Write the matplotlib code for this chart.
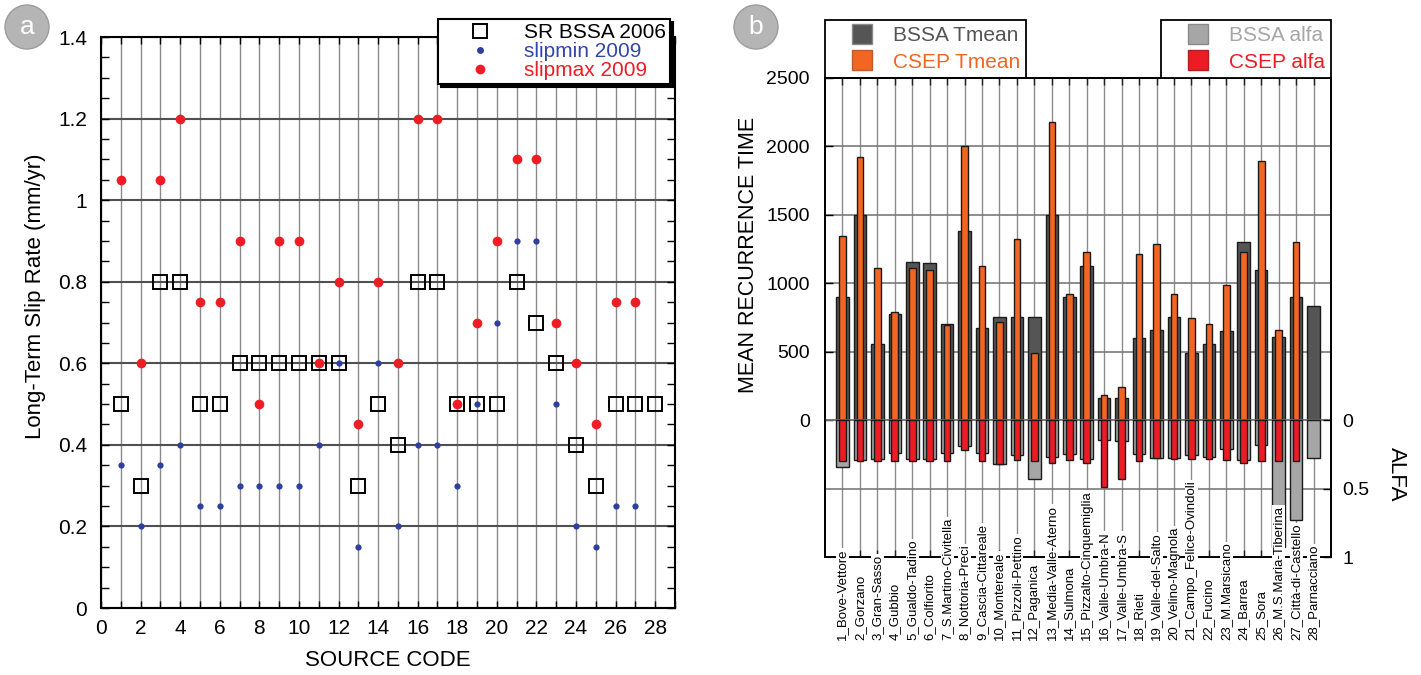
import numpy as np
import matplotlib
matplotlib.use("Agg")
import matplotlib.pyplot as plt
import matplotlib.transforms as mtransforms
from matplotlib.lines import Line2D
from matplotlib.patches import Ellipse
from matplotlib.ticker import MultipleLocator

plt.rcParams['font.family'] = ['Liberation Sans', 'DejaVu Sans']

# ---- panel a: slip rates ----
source_code = list(range(1, 29))
sr_bssa_2006 = [0.5, 0.3, 0.8, 0.8, 0.5, 0.5, 0.6, 0.6, 0.6, 0.6, 0.6, 0.6, 0.3, 0.5,
                0.4, 0.8, 0.8, 0.5, 0.5, 0.5, 0.8, 0.7, 0.6, 0.4, 0.3, 0.5, 0.5, 0.5]
slipmin_2009 = [0.35, 0.2, 0.35, 0.4, 0.25, 0.25, 0.3, 0.3, 0.3, 0.3, 0.4, 0.6, 0.15, 0.6,
                0.2, 0.4, 0.4, 0.3, 0.5, 0.7, 0.9, 0.9, 0.5, 0.2, 0.15, 0.25, 0.25, np.nan]
slipmax_2009 = [1.05, 0.6, 1.05, 1.2, 0.75, 0.75, 0.9, 0.5, 0.9, 0.9, 0.6, 0.8, 0.45, 0.8,
                0.6, 1.2, 1.2, 0.5, 0.7, 0.9, 1.1, 1.1, 0.7, 0.6, 0.45, 0.75, 0.75, np.nan]
ytick_labels_a = ['0', '0.2', '0.4', '0.6', '0.8', '1', '1.2', '1.4']

# ---- panel b: recurrence time and alfa ----
source_names = ['1_Bove-Vettore', '2_Gorzano', '3_Gran-Sasso', '4_Gubbio', '5_Gualdo-Tadino',
                '6_Colfiorito', '7_S.Martino-Civitella', '8_Nottoria-Preci', '9_Cascia-Cittareale',
                '10_Montereale', '11_Pizzoli-Pettino', '12_Paganica', '13_Media-Valle-Aterno',
                '14_Sulmona', '15_Pizzalto-Cinquemiglia', '16_Valle-Umbra-N', '17_Valle-Umbra-S',
                '18_Rieti', '19_Valle-del-Salto', '20_Velino-Magnola', '21_Campo_Felice-Ovindoli',
                '22_Fucino', '23_M.Marsicano', '24_Barrea', '25_Sora', '26_M.S.Maria-Tiberina',
                '27_Città-di-Castello', '28_Parnacciano']
bssa_tmean = [900, 1500, 560, 775, 1155, 1145, 705, 1380, 675, 750, 750, 750, 1500, 900,
              1125, 165, 165, 600, 660, 750, 490, 555, 650, 1305, 1100, 610, 900, 835]
csep_tmean = [1345, 1925, 1110, 790, 1110, 1100, 695, 2005, 1125, 720, 1320, 490, 2180, 920,
              1225, 185, 245, 1215, 1285, 920, 745, 700, 985, 1225, 1895, 660, 1300, np.nan]
bssa_alfa = [0.34, 0.29, 0.285, 0.24, 0.285, 0.285, 0.24, 0.19, 0.24, 0.32, 0.255, 0.43, 0.27, 0.25,
             0.285, 0.145, 0.15, 0.25, 0.275, 0.28, 0.255, 0.27, 0.21, 0.29, 0.18, 0.93, 0.73, 0.28]
csep_alfa = [0.30, 0.30, 0.30, 0.30, 0.30, 0.30, 0.30, 0.22, 0.30, 0.32, 0.29, 0.30, 0.31, 0.29,
             0.31, 0.49, 0.43, 0.295, 0.28, 0.285, 0.285, 0.285, 0.29, 0.315, 0.30, 0.30, 0.30, np.nan]
tmean_ticks = [0, 500, 1000, 1500, 2000, 2500]
alfa_ticks = [0, 0.5, 1]
alfa_tick_labels = ['0', '0.5', '1']

W, H = 1421, 675
fig = plt.figure(figsize=(W / 100, H / 100), dpi=100)


def circle_tag(cx, cy, letter):
    fig.add_artist(Ellipse((cx / W, 1 - cy / H), 44 / W, 44 / H, transform=fig.transFigure,
                           facecolor='#b5b5b5', edgecolor='#9c9c9c', lw=1))
    fig.text(cx / W, 1 - cy / H, letter, color='white', fontsize=19, ha='center', va='center')


# ================= panel a =================
ax1 = fig.add_axes([101 / W, 1 - 608 / H, 574 / W, 571 / H])
ax1.set_xlim(0, 29)
ax1.set_ylim(0, 1.4)
ax1.set_axisbelow(True)

ax1.set_xticks(range(0, 29, 2))
ax1.xaxis.set_minor_locator(MultipleLocator(1))
ax1.set_yticks(np.arange(0, 1.41, 0.2))
ax1.set_yticklabels(ytick_labels_a)
ax1.yaxis.set_minor_locator(MultipleLocator(0.05))
ax1.grid(axis='x', which='both', color='#8a8a8a', lw=1)
ax1.grid(axis='y', which='major', color='#505050', lw=1.5)
ax1.tick_params(axis='y', which='both', direction='in', left=True, right=True,
                length=6, width=1, labelsize=15, pad=10)
ax1.tick_params(axis='x', which='both', direction='in', top=True, bottom=True,
                length=5, width=1, labelsize=15, pad=8)
for s in ax1.spines.values():
    s.set_linewidth(1.5)

ax1.plot(source_code, slipmax_2009, 'o', color='#ee1c24', ms=7, mew=0, zorder=3)
ax1.plot(source_code, slipmin_2009, 'o', color='#2e3f9e', ms=4.5, mew=0, zorder=3)
ax1.plot(source_code, sr_bssa_2006, 's', mfc='none', mec='black', ms=9.8, mew=1.4, zorder=4)

fig.text(36 / W, 1 - 296 / H, 'Long-Term Slip Rate (mm/yr)', rotation=90,
         ha='center', va='center', fontsize=16)
fig.text(388 / W, 1 - 660 / H, 'SOURCE CODE', ha='center', va='center', fontsize=16)

h_a = [Line2D([], [], marker='s', ls='none', mfc='none', mec='black', ms=10, mew=1.4),
       Line2D([], [], marker='o', ls='none', color='#2e3f9e', ms=5, mew=0),
       Line2D([], [], marker='o', ls='none', color='#ee1c24', ms=7, mew=0)]
leg_a = ax1.legend(h_a, ['SR BSSA 2006', 'slipmin 2009', 'slipmax 2009'],
                   loc='upper right', bbox_to_anchor=(670 / W, 1 - 19 / H),
                   bbox_transform=fig.transFigure, borderaxespad=0, fontsize=15,
                   frameon=True, fancybox=False, framealpha=1, shadow={'color': 'black', 'alpha': 1},
                   borderpad=0.2, labelspacing=0.0, handlelength=3.6, handletextpad=0.3)
leg_a.get_frame().set_edgecolor('black')
leg_a.get_frame().set_linewidth(1.5)
for t, c in zip(leg_a.get_texts(), ['black', '#3347a8', '#ee1c24']):
    t.set_color(c)

circle_tag(27, 27, 'a')

# ================= panel b =================
ax = fig.add_axes([825 / W, 1 - 557 / H, 506 / W, 479 / H])
ax.set_xlim(0, 29)
ax.set_ylim(-1000, 2500)
ax.set_axisbelow(True)

x = np.array(source_code)
ct = np.array(csep_tmean, dtype=float)
ok = ~np.isnan(ct)
ax.bar(x, bssa_tmean, width=0.72, color='#555555', edgecolor='#1a1a1a', lw=1, zorder=2)
ax.bar(x[ok], ct[ok], width=0.38, color='#f26522', edgecolor='#1a1a1a', lw=1, zorder=3)

ax.set_xticks(source_code)
ax.set_yticks(tmean_ticks)
ax.grid(axis='x', color='#8c8c8c', lw=1)
ax.grid(axis='y', color='#7a7a7a', lw=1.2)
ax.tick_params(axis='x', direction='in', top=True, bottom=True, labelbottom=False,
               length=5, width=1, color='#222222')
ax.tick_params(axis='y', direction='in', left=True, right=False, length=6, width=1,
               labelsize=14, pad=11)
for s in ax.spines.values():
    s.set_linewidth(1.3)

# alfa on a twin axis, increasing downward from the Tmean zero line
ax2 = ax.twinx()
ax2.set_ylim(1, -2.5)
ax2.set_axisbelow(True)
ca = np.array(csep_alfa, dtype=float)
ok2 = ~np.isnan(ca)
ax2.bar(x, bssa_alfa, width=0.72, color='#a6a6a6', edgecolor='#1a1a1a', lw=1, zorder=2)
ax2.bar(x[ok2], ca[ok2], width=0.38, color='#ed1c24', edgecolor='#1a1a1a', lw=1, zorder=3)
ax2.set_yticks(alfa_ticks)
ax2.set_yticklabels(alfa_tick_labels)
ax2.grid(axis='y', color='#7a7a7a', lw=1.2)
ax2.tick_params(axis='y', direction='in', right=True, length=6, width=1, labelsize=14, pad=8)
for s in ax2.spines.values():
    s.set_linewidth(1.3)

trans = mtransforms.blended_transform_factory(ax2.transData, ax2.transAxes)
for xi, name in zip(source_code, source_names):
    ax2.text(xi, -0.173, name, transform=trans, rotation=90, ha='center', va='bottom',
             fontsize=9.5, clip_on=False, zorder=10,
             bbox=dict(facecolor='white', edgecolor='none', pad=0.4))

fig.text(748 / W, 1 - 255 / H, 'MEAN RECURRENCE TIME', rotation=90,
         ha='center', va='center', fontsize=15.5)
fig.text(1396 / W, 1 - 474 / H, 'ALFA', rotation=270, ha='center', va='center', fontsize=16)

h_t = [Line2D([], [], marker='s', ls='none', ms=14, mfc='#555555', mec='#8a8a8a'),
       Line2D([], [], marker='s', ls='none', ms=14, mfc='#f26522', mec='#c05a2a')]
leg_t = ax.legend(h_t, ['BSSA Tmean', 'CSEP Tmean'], loc='lower left', bbox_to_anchor=(0, 1),
                  borderaxespad=0, fontsize=15, fancybox=False, framealpha=1,
                  borderpad=0.3, labelspacing=0.35, handlelength=2.95, handletextpad=0.0)
leg_t.get_frame().set_edgecolor('black')
leg_t.get_frame().set_linewidth(1.3)
for t, c in zip(leg_t.get_texts(), ['#555555', '#f26522']):
    t.set_color(c)

h_al = [Line2D([], [], marker='s', ls='none', ms=14, mfc='#a6a6a6', mec='#8a8a8a'),
        Line2D([], [], marker='s', ls='none', ms=14, mfc='#ed1c24', mec='#b02020')]
leg_al = ax2.legend(h_al, ['BSSA alfa', 'CSEP alfa'], loc='lower right', bbox_to_anchor=(1, 1),
                    borderaxespad=0, fontsize=15, fancybox=False, framealpha=1,
                    borderpad=0.3, labelspacing=0.35, handlelength=2.95, handletextpad=0.0)
leg_al.get_frame().set_edgecolor('black')
leg_al.get_frame().set_linewidth(1.3)
for t, c in zip(leg_al.get_texts(), ['#a6a6a6', '#ed1c24']):
    t.set_color(c)

circle_tag(756, 27, 'b')

fig.savefig('out.png', dpi=100)
